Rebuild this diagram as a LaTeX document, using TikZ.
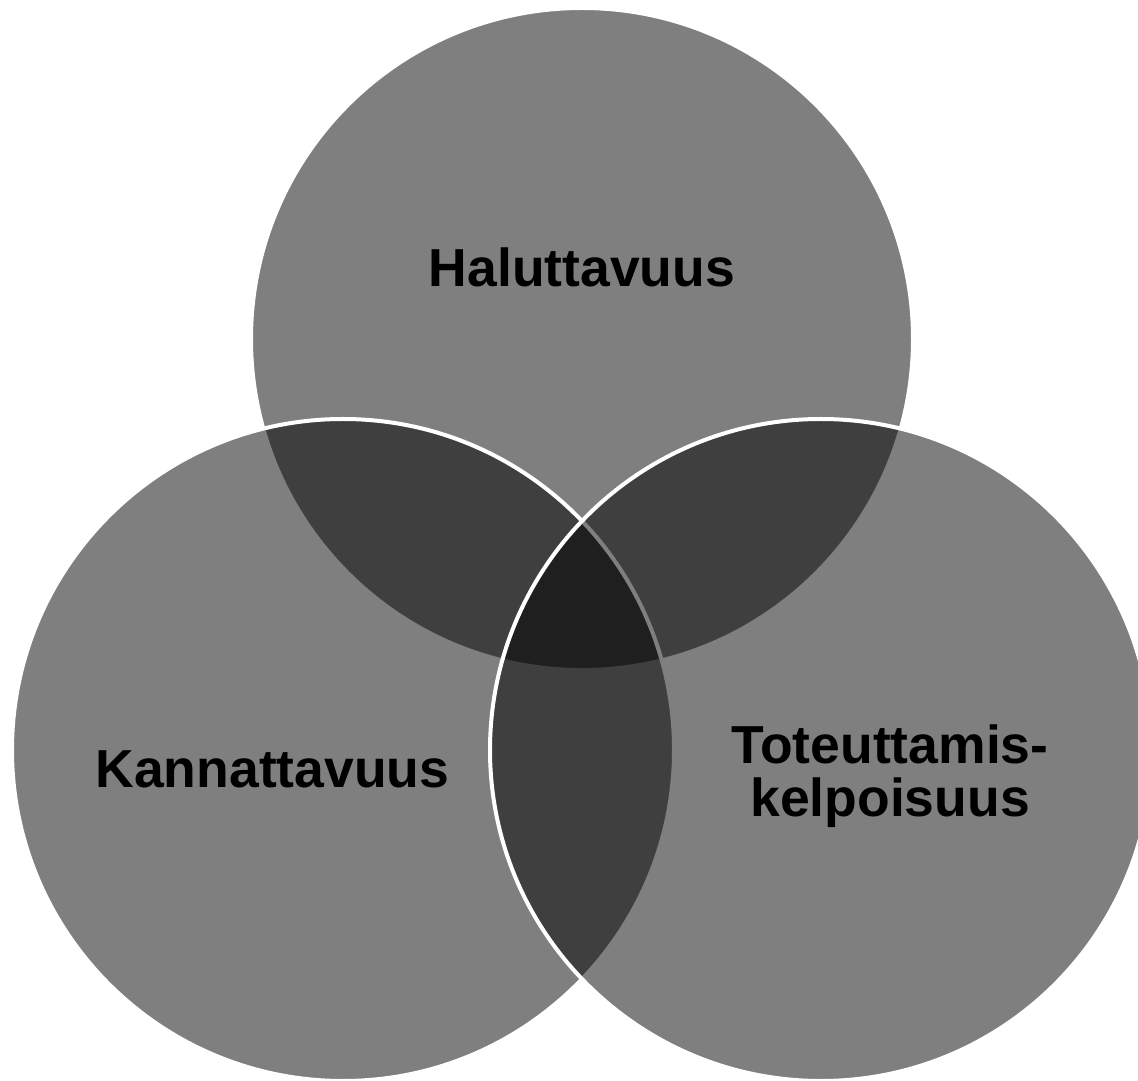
\documentclass[tikz,border=0pt]{standalone}
\usepackage{fontspec}
\setmainfont{Liberation Sans}
\begin{document}
\begin{tikzpicture}[x=1pt,y=1pt,
  venn/.style={fill=black,fill opacity=0.5,draw=white,draw opacity=1,line width=4pt},
  lbl/.style={font=\bfseries\fontsize{53.5}{53}\selectfont,text=black,inner sep=0pt,align=center}]
\useasboundingbox (0,0) rectangle (1138,1080);
\path[venn] (582,741) circle[radius=331];
\path[venn] (343,330) circle[radius=331];
\path[venn] (821,330) circle[radius=331];
\node[lbl,anchor=base] (hal) at (582,793) {Haluttavuus};
\node[lbl,anchor=base] (kan) at (272.5,292) {Kannattavuus};
\node[lbl,anchor=base] (tot) at (890,264) {Toteuttamis-\\kelpoisuus};
\end{tikzpicture}
\end{document}
